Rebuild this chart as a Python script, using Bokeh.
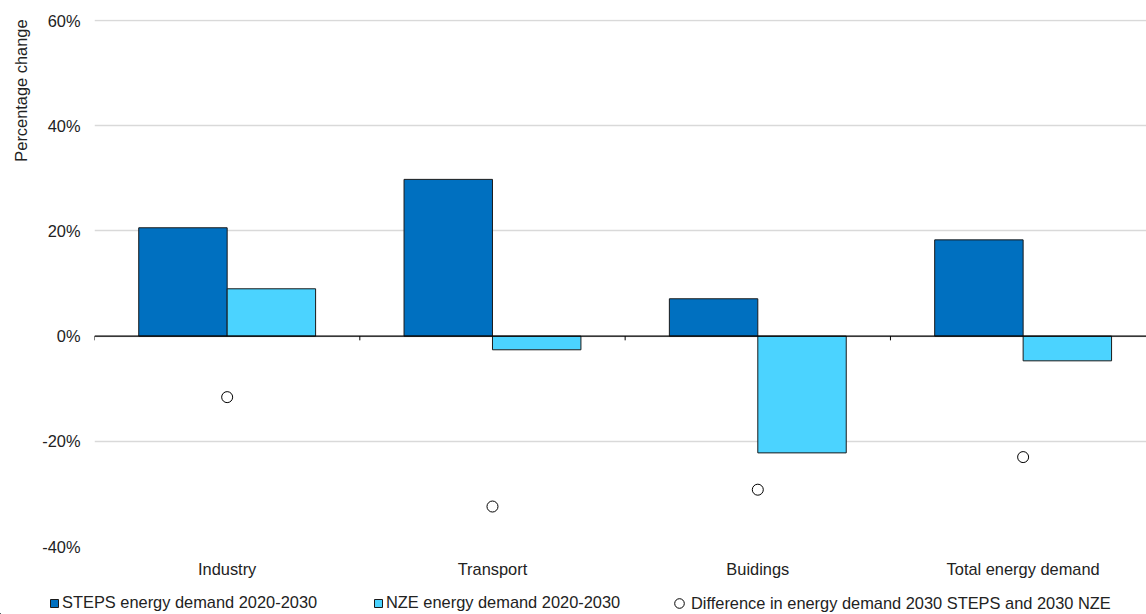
from bokeh.embed import file_html
from bokeh.layouts import column
from bokeh.models import (ColumnDataSource, FixedTicker, Legend, LegendItem,
                          PrintfTickFormatter, Range1d, Span, Title)
from bokeh.plotting import figure
from bokeh.resources import INLINE

# Change in final energy demand by sector, in percent
sectors = ["Industry", "Transport", "Buidings", "Total energy demand"]
steps_change = [20.6, 29.8, 7.1, 18.3]      # STEPS 2020-2030
nze_change = [9.0, -2.6, -22.2, -4.7]       # NZE 2020-2030
gap_2030 = [-11.6, -32.4, -29.2, -23.0]     # 2030 STEPS vs 2030 NZE
y_ticks = [-40, -20, 0, 20, 40, 60]

series_labels = [
    "STEPS energy demand 2020-2030",
    "NZE energy demand 2020-2030",
    "Difference in energy demand 2030 STEPS and 2030 NZE",
]

FONT = "Liberation Sans"
FONT_SIZE = "16.4px"
TEXT = "#222222"
STEPS_BLUE = "#0070C0"
NZE_BLUE = "#4BD3FF"
EDGE = "#1a1a1a"

n = len(sectors)
centers = [i + 0.5 for i in range(n)]
bounds = list(range(n))

src = ColumnDataSource(dict(
    x_steps=[c - 1 / 6 for c in centers],
    x_nze=[c + 1 / 6 for c in centers],
    x_mid=centers,
    steps=steps_change,
    nze=nze_change,
    gap=gap_2030,
))

p = figure(
    width=1146, height=586,
    output_backend="svg", toolbar_location=None,
    x_range=Range1d(0, 3.965), y_range=Range1d(-40, 60.2),
    min_border_left=93, min_border_right=0,
    min_border_top=19, min_border_bottom=40,
)
p.frame_align = False
p.outline_line_color = None
p.background_fill_color = "white"
p.border_fill_color = "white"

# y axis: percent labels, no line or ticks
p.yaxis.ticker = FixedTicker(ticks=y_ticks)
p.yaxis.formatter = PrintfTickFormatter(format="%d%%")
p.yaxis.axis_line_color = None
p.yaxis.major_tick_line_color = None
p.yaxis.minor_tick_line_color = None
p.yaxis.major_tick_out = 0
p.yaxis.major_tick_in = 0
p.yaxis.major_label_standoff = 14
p.yaxis.major_label_text_font = FONT
p.yaxis.major_label_text_font_size = FONT_SIZE
p.yaxis.major_label_text_color = TEXT

# vertical axis title, sitting at the top of the axis
p.add_layout(Title(
    text="Percentage change", align="right", standoff=19,
    text_font=FONT, text_font_size=FONT_SIZE, text_font_style="normal",
    text_color=TEXT,
), "left")

# x axis: sector names under each group
p.xaxis.ticker = FixedTicker(ticks=centers)
p.xaxis.major_label_overrides = {c: s for c, s in zip(centers, sectors)}
p.xaxis.axis_line_color = None
p.xaxis.major_tick_line_color = None
p.xaxis.minor_tick_line_color = None
p.xaxis.major_tick_out = 0
p.xaxis.major_tick_in = 0
p.xaxis.major_label_standoff = 13
p.xaxis.major_label_text_font = FONT
p.xaxis.major_label_text_font_size = FONT_SIZE
p.xaxis.major_label_text_color = TEXT

p.xgrid.visible = False
p.ygrid.grid_line_color = "#d9d9d9"
p.ygrid.grid_line_width = 1.3

p.vbar(x="x_steps", top="steps", bottom=0, width=1 / 3, source=src,
       fill_color=STEPS_BLUE, line_color=EDGE, line_width=1)
p.vbar(x="x_nze", top="nze", bottom=0, width=1 / 3, source=src,
       fill_color=NZE_BLUE, line_color=EDGE, line_width=1)

# zero line with group separator ticks
p.add_layout(Span(location=0, dimension="width", line_color="black", line_width=1.3))
p.segment(x0=bounds, y0=[0] * n, x1=bounds, y1=[-0.8] * n,
          line_color="black", line_width=1)

p.scatter(x="x_mid", y="gap", source=src, marker="circle", size=11,
          fill_color="white", line_color="black", line_width=1)

# legend strip underneath the chart
lg = figure(
    width=1146, height=28,
    output_backend="svg", toolbar_location=None,
    x_range=Range1d(0, 1146), y_range=Range1d(0, 28),
    x_axis_type=None, y_axis_type=None,
    min_border=0,
)
lg.frame_align = False
lg.outline_line_color = None
lg.xgrid.visible = False
lg.ygrid.visible = False

# key glyphs for the legend entries (kept outside the visible range)
key_steps = lg.vbar(x=[-50], top=[1], width=1, fill_color=STEPS_BLUE,
                    line_color=EDGE, line_width=1)
key_nze = lg.vbar(x=[-50], top=[1], width=1, fill_color=NZE_BLUE,
                  line_color=EDGE, line_width=1)
key_gap = lg.scatter(x=[-50], y=[1], marker="circle", fill_color="white",
                     line_color="black", line_width=1)

common = dict(
    orientation="horizontal", padding=0, margin=0, spacing=0,
    border_line_color=None, background_fill_alpha=0,
    label_text_font=FONT, label_text_font_size=FONT_SIZE,
    label_text_color=TEXT,
)
lg.add_layout(Legend(
    items=[LegendItem(label=series_labels[0], renderers=[key_steps])],
    location=(49, 2), glyph_width=10, glyph_height=10, label_standoff=3,
    **common))
lg.add_layout(Legend(
    items=[LegendItem(label=series_labels[1], renderers=[key_nze])],
    location=(373, 2), glyph_width=10, glyph_height=10, label_standoff=3,
    **common))
lg.add_layout(Legend(
    items=[LegendItem(label=series_labels[2], renderers=[key_gap])],
    location=(667, -1), glyph_width=24, glyph_height=24, label_standoff=-7,
    **common))

layout = column(p, lg, spacing=0)
open("out.html", "w").write(file_html(layout, INLINE))
